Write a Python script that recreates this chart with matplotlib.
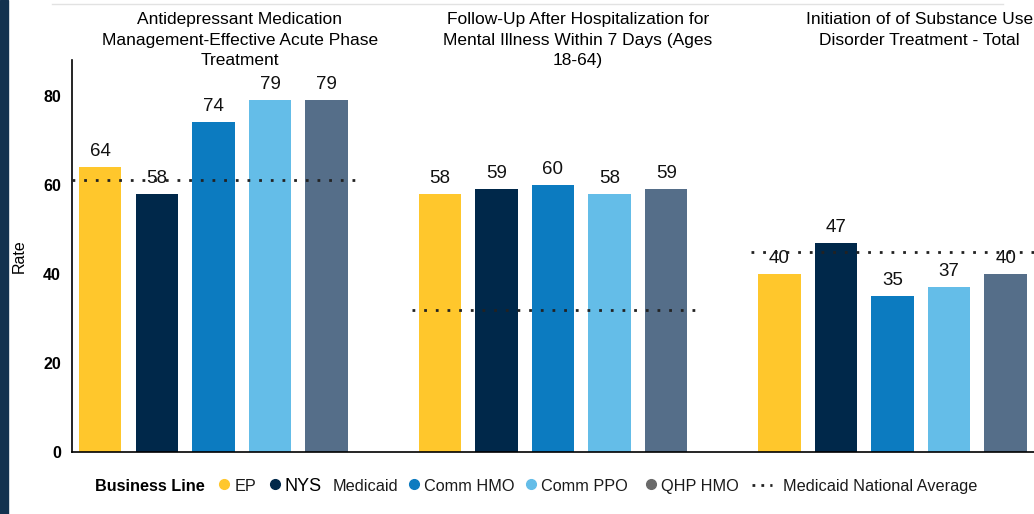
import numpy as np
import matplotlib
matplotlib.use("Agg")
import matplotlib.pyplot as plt
from matplotlib.lines import Line2D
from matplotlib.patches import Rectangle

plt.rcParams['font.family'] = ['Liberation Sans', 'DejaVu Sans']

# data
measures = ["Antidepressant Medication\nManagement-Effective Acute Phase\nTreatment",
            "Follow-Up After Hospitalization for\nMental Illness Within 7 Days (Ages\n18-64)",
            "Initiation of of Substance Use\nDisorder Treatment - Total"]
business_lines = ["EP", "NYS Medicaid", "Comm HMO", "Comm PPO", "QHP HMO"]
rates = [[64, 58, 74, 79, 79],
         [58, 59, 60, 58, 59],
         [40, 47, 35, 37, 40]]
national_avg = [61, 32, 45]
colors = ["#FFC72C", "#00284A", "#0C7BC0", "#64BDE8", "#556E89"]

fig = plt.figure(figsize=(10.34, 5.14), dpi=100)
ax = fig.add_axes([0.0696, 0.1206, 0.9304, 0.7624])

# dark strip on the left edge
fig.patches.append(Rectangle((0, 0), 0.0075, 1, transform=fig.transFigure,
                             color="#13324F", zorder=0))
fig.add_artist(Line2D([0.05, 0.97], [0.993, 0.993], color="#E2E2E2", lw=1))

group_step = 6
width = 0.75
for g, vals in enumerate(rates):
    xs = g * group_step + np.arange(len(vals))
    for x, v, c in zip(xs, vals, colors):
        ax.bar(x, v, width=width, color=c, zorder=2)
        ax.text(x, v + 1.6, str(v), ha='center', va='bottom', fontsize=13.5,
                color="#111111", zorder=3)
    ax.plot([xs[0] - 0.5, xs[-1] + 0.6], [national_avg[g]] * 2, linestyle=(0, (1, 3.2)),
            color="#222222", lw=2, zorder=4)

ax.set_xlim(-0.5, 16.5)
ax.set_ylim(0, 88)
ax.set_yticks([0, 20, 40, 60, 80])
ax.set_xticks([])
ax.tick_params(axis='y', length=0, pad=8, labelsize=11.5)
for lbl in ax.get_yticklabels():
    lbl.set_fontweight('bold')
ax.set_ylabel("Rate", fontsize=11.5, labelpad=12)
ax.spines['top'].set_visible(False)
ax.spines['right'].set_visible(False)
ax.spines['left'].set_linewidth(1.2)
ax.spines['bottom'].set_linewidth(1.2)

# measure titles
title_x = [0.232, 0.559, 0.889]
for tx, t in zip(title_x, measures):
    fig.text(tx, 0.976, t, ha='center', va='top', fontsize=12.5, linespacing=1.45)

# legend row
ly = 0.054
fs = 11.7
fig.text(0.092, ly, "Business Line", fontsize=fs, fontweight='bold', va='center')
items = [(0.217, colors[0], "EP"), (0.266, colors[1], None),
         (0.4005, colors[2], "Comm HMO"), (0.5135, colors[3], "Comm PPO"),
         (0.6295, "#6A6A6A", "QHP HMO")]
for mx, c, lab in items:
    fig.add_artist(Line2D([mx], [ly + 0.004], marker='o', markersize=7, color=c,
                          transform=fig.transFigure))
    if lab:
        fig.text(mx + 0.0095, ly, lab, fontsize=fs, va='center', color="#1A1A1A")
fig.text(0.2755, ly, "NYS", fontsize=13, va='center', color="black")
fig.text(0.322, ly, "Medicaid", fontsize=fs, va='center', color="#1A1A1A")
fig.add_artist(Line2D([0.727, 0.747], [ly + 0.002] * 2, linestyle=(0, (1, 2.2)),
                      color="#222222", lw=2, transform=fig.transFigure))
fig.text(0.757, ly, "Medicaid National Average", fontsize=fs, va='center', color="#1A1A1A")

fig.savefig("out.png", dpi=100)
